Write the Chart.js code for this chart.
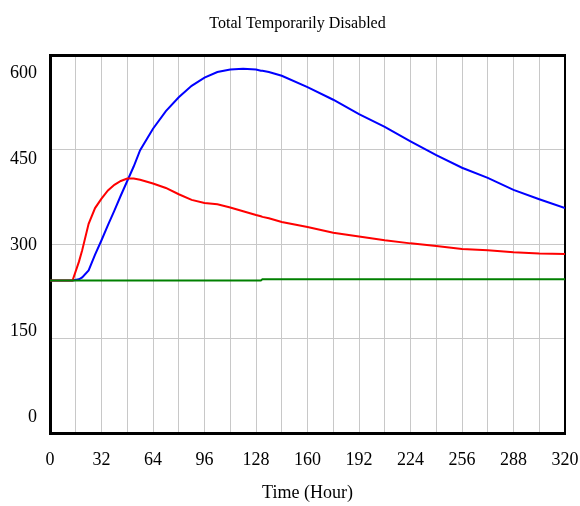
<!DOCTYPE html>
<html>
<head>
<meta charset="utf-8">
<script src="https://cdn.jsdelivr.net/npm/chart.js@4/dist/chart.umd.min.js"></script>
<style>
  html, body { margin: 0; padding: 0; background: #fff; }
  #wrap { width: 580px; height: 506px; }
</style>
</head>
<body>
<div id="wrap"><canvas id="chart" width="580" height="506"></canvas></div>
<script>
// time axis (hours) and the three runs
const hours = [0, 8, 14, 18, 20, 24, 28, 32, 36, 40, 44, 48, 52, 56, 64, 72, 80, 88, 96, 104,
  112, 120, 128, 131, 132, 136, 144, 160, 176, 192, 208, 224, 240, 256, 272, 288, 304, 320];
const redRun = [242, 242, 242, 272, 290, 332, 357, 372, 385, 394, 400, 404, 404, 402, 396, 389, 379, 370, 365, 363,
  358, 352, 346, 344, 343, 341, 335, 327, 318, 312, 306, 301, 297, 292, 290, 287, 285, 284];
const blueRun = [242, 242, 242, 244, 247, 258, 283, 306, 330, 353, 377, 400, 423, 449, 483, 511, 533, 551, 564, 573,
  577, 578, 577, 575, 575, 573, 567, 549, 529, 506, 486, 463, 441, 421, 405, 386, 371, 357];
const greenRun = [242, 242, 242, 242, 242, 242, 242, 242, 242, 242, 242, 242, 242, 242, 242, 242, 242, 242, 242, 242,
  242, 242, 242, 242, 244, 244, 244, 244, 244, 244, 244, 244, 244, 244, 244, 244, 244, 244];

const xGrid = [0, 16, 32, 48, 64, 80, 96, 112, 128, 144, 160, 176, 192, 208, 224, 240, 256, 272, 288, 304, 320];
const xLabels = [0, 32, 64, 96, 128, 160, 192, 224, 256, 288, 320];
const yGrid = [0, 150, 300, 450, 600];
const yLabels = [0, 150, 300, 450, 600];

const font = 'Liberation Serif';

function points(vals) {
  return hours.map((h, i) => ({ x: h, y: vals[i] }));
}
function line(vals, color) {
  return {
    data: points(vals),
    borderColor: color,
    borderWidth: 2,
    pointRadius: 0,
    tension: 0,
    fill: false,
    yAxisID: 'y'
  };
}

new Chart(document.getElementById('chart').getContext('2d'), {
  type: 'line',
  data: {
    datasets: [
      line(greenRun, '#008000'),
      line(redRun, '#ff0000'),
      line(blueRun, '#0000ff')
    ]
  },
  options: {
    responsive: false,
    animation: false,
    // negative right padding pushes the title centre a bit right, like the original
    layout: { padding: { left: 0, right: -15, top: 0, bottom: 0 } },
    plugins: {
      legend: { display: false },
      tooltip: { enabled: false },
      title: {
        display: true,
        text: 'Total Temporarily Disabled',
        color: '#000',
        font: { family: font, size: 16, weight: 'normal' },
        padding: { top: 14, bottom: 21.8 }
      }
    },
    scales: {
      x: {
        type: 'linear',
        min: 0,
        max: 320,
        afterBuildTicks: s => { s.ticks = xGrid.map(v => ({ value: v })); },
        afterFit: s => { s.height = 73; s.paddingLeft = 0; s.paddingRight = 0; },
        ticks: {
          autoSkip: false,
          maxRotation: 0,
          color: '#000',
          padding: 16,
          font: { family: font, size: 18 },
          callback: v => xLabels.includes(v) ? String(v) : ''
        },
        grid: { color: '#c8c8c8', lineWidth: 1, drawTicks: false },
        border: { color: '#000', width: 3 },
        title: {
          display: true,
          text: 'Time (Hour)',
          color: '#000',
          font: { family: font, size: 18 },
          padding: { top: 0, bottom: 2 }
        }
      },
      xt: {
        type: 'linear',
        position: 'top',
        min: 0,
        max: 320,
        afterFit: s => { s.height = 0; },
        ticks: { display: false },
        grid: { drawOnChartArea: false, drawTicks: false },
        border: { color: '#000', width: 3 }
      },
      y: {
        type: 'linear',
        position: 'left',
        weight: 0,
        min: 0,
        max: 600,
        afterBuildTicks: s => { s.ticks = yGrid.map(v => ({ value: v })); },
        afterFit: s => { s.width = 0; },
        ticks: { display: false },
        grid: { color: '#c8c8c8', lineWidth: 1, drawTicks: false },
        border: { color: '#000', width: 3 }
      },
      // label-only axis: labels sit evenly spaced a little off the grid, like the original
      yl: {
        type: 'linear',
        position: 'left',
        weight: 1,
        min: -27.9,
        max: 631.4,
        afterBuildTicks: s => { s.ticks = yLabels.map(v => ({ value: v })); },
        afterFit: s => { s.width = 50; },
        ticks: {
          color: '#000',
          padding: 13,
          font: { family: font, size: 18 }
        },
        grid: { display: false, drawTicks: false },
        border: { display: false }
      },
      yr: {
        type: 'linear',
        position: 'right',
        min: 0,
        max: 600,
        afterFit: s => { s.width = 30; },
        ticks: { display: false },
        grid: { drawOnChartArea: false, drawTicks: false },
        border: { color: '#000', width: 2 }
      }
    }
  }
});
</script>
</body>
</html>
